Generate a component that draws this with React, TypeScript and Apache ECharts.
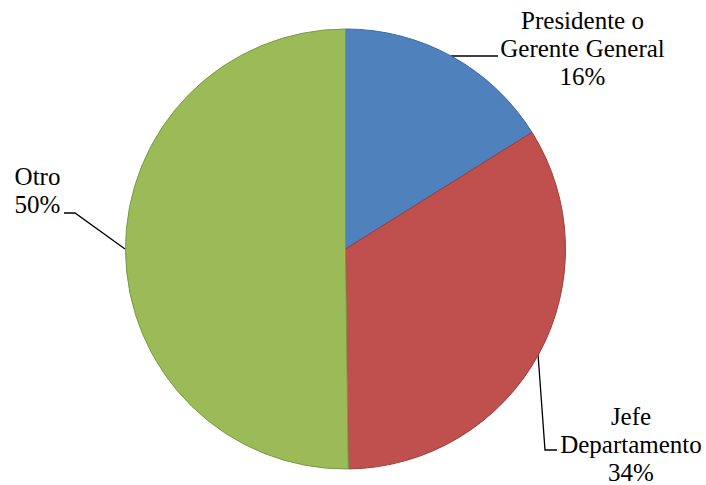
import React, { useEffect, useRef } from "react";
import * as echarts from "echarts";

const categories = ["Presidente o\nGerente General", "Jefe\nDepartamento", "Otro"];
const values = [16.1, 33.7, 50.2];
const colors = ["#4F81BD", "#C0504D", "#9BBB59"];
const borderColors = ["#3E6A9E", "#9B3E3B", "#7A9A42"];

const labelPos = [
  { x: 582.5, y: 48, line: [[451, 56], [475, 56], [498, 56]] },
  { x: 631, y: 444, line: [[538, 354], [545, 450], [557, 450]] },
  { x: 37.5, y: 190, line: [[125, 249], [75, 213], [64, 213]] },
];

const FONT = "Liberation Serif";

export default function App() {
  const ref = useRef<HTMLDivElement>(null);
  useEffect(() => {
    const chart = echarts.init(ref.current!, null, { renderer: "svg" });
    chart.setOption({
      animation: false,
      backgroundColor: "#ffffff",
      textStyle: { fontFamily: FONT },
      series: [
        {
          type: "pie",
          center: [345.5, 249],
          radius: 220,
          startAngle: 90,
          clockwise: true,
          percentPrecision: 0,
          data: categories.map((name, i) => ({
            name,
            value: values[i],
            itemStyle: { color: colors[i], borderColor: borderColors[i], borderWidth: 1 },
          })),
          label: {
            show: true,
            position: "outside",
            formatter: "{b}\n{d}%",
            fontFamily: FONT,
            fontSize: 25,
            lineHeight: 28,
            color: "#000",
            align: "center",
            overflow: "none",
            width: 300,
          },
          labelLine: { show: true, lineStyle: { color: "#000", width: 1.3 } },
          labelLayout: (params: any) => {
            const p = labelPos[params.dataIndex];
            return {
              x: p.x,
              y: p.y,
              align: "center",
              verticalAlign: "middle",
              labelLinePoints: p.line,
            };
          },
          emphasis: { disabled: true },
        },
      ],
    });
    return () => chart.dispose();
  }, []);
  return (
    <div
      ref={ref}
      style={{ position: "fixed", left: 0, top: 0, width: 706, height: 485 }}
    />
  );
}
